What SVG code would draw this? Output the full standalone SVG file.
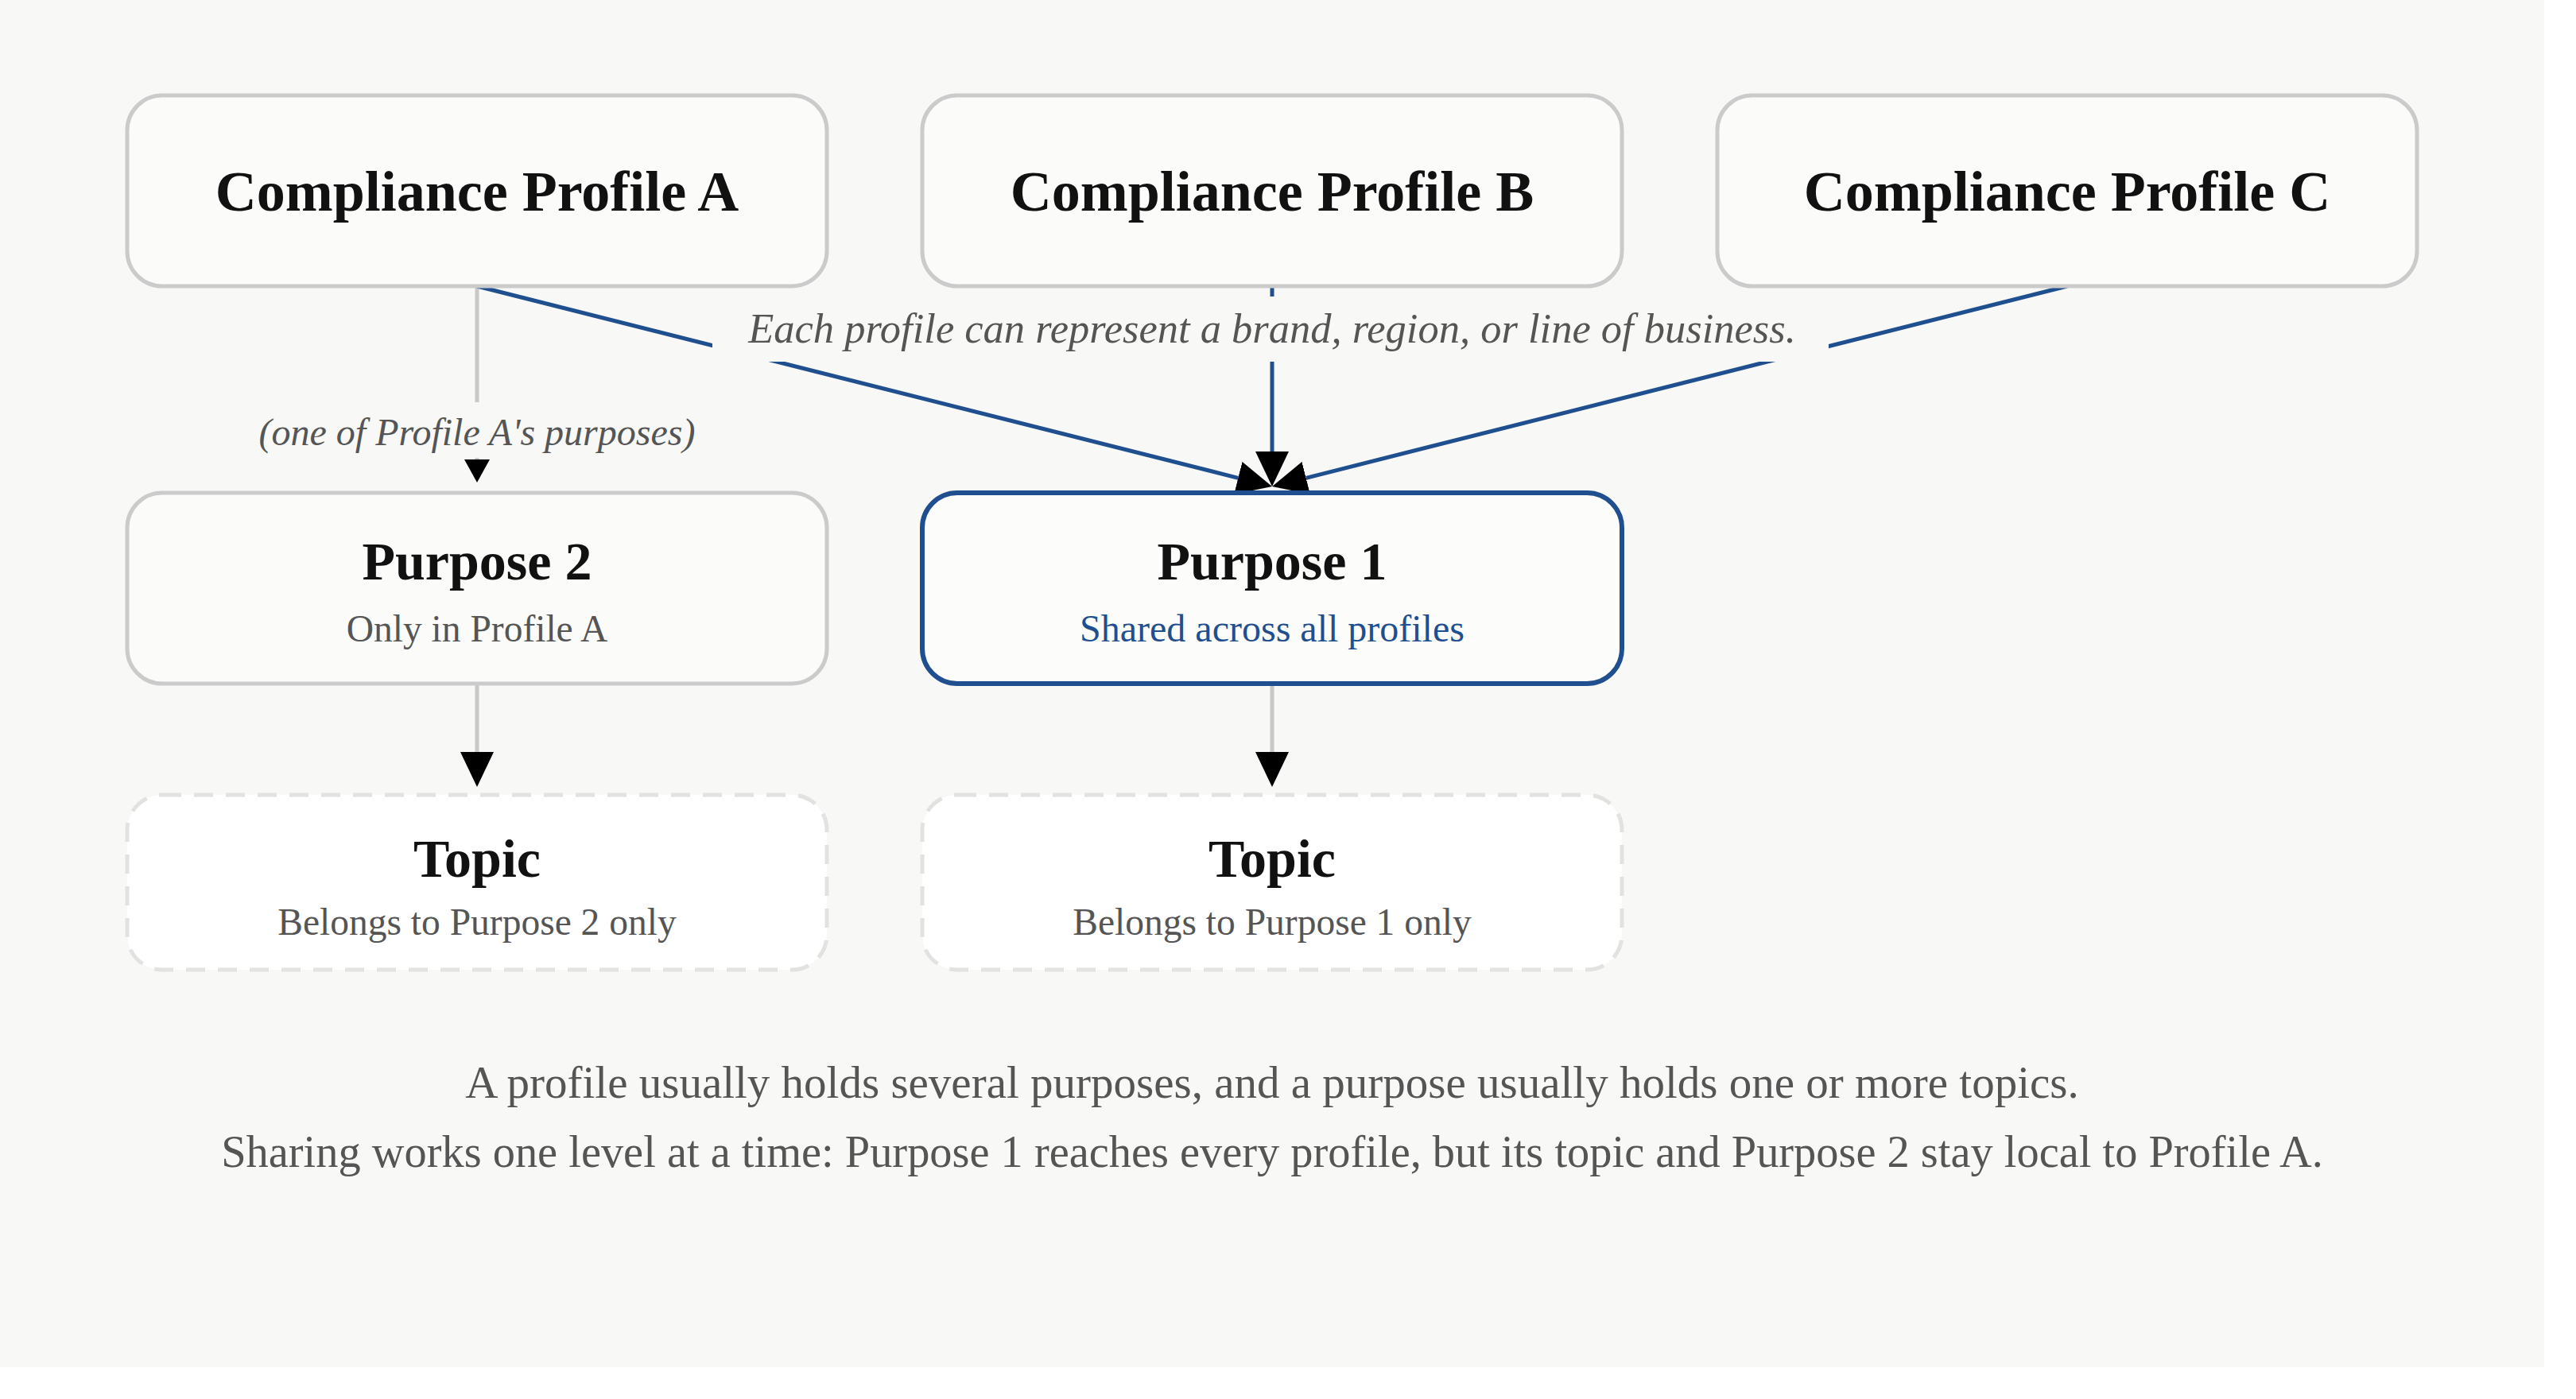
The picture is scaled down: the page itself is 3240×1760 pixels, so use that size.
<svg xmlns="http://www.w3.org/2000/svg" width="3240" height="1760" viewBox="0 0 3240 1760">
<style>
.box{fill:#fbfbfa;stroke:#cbcbcb;stroke-width:5}
.hl{fill:#fcfcfb;stroke:#1f4f8f;stroke-width:6}
.topic{fill:#ffffff;stroke:#e2e2e0;stroke-width:5;stroke-dasharray:24 16}
.t1{font-family:"Liberation Serif","Times New Roman",serif;font-weight:bold;font-size:72px;fill:#111;text-anchor:middle}
.t2{font-family:"Liberation Serif","Times New Roman",serif;font-weight:bold;font-size:68px;fill:#111;text-anchor:middle}
.sub{font-family:"Liberation Serif","Times New Roman",serif;font-size:47.5px;fill:#555;text-anchor:middle}
.subb{font-family:"Liberation Serif","Times New Roman",serif;font-size:48px;fill:#1f4f8f;text-anchor:middle}
.lbl{font-family:"Liberation Serif","Times New Roman",serif;font-style:italic;fill:#555;text-anchor:middle}
.foot{font-family:"Liberation Serif","Times New Roman",serif;fill:#555;text-anchor:middle}
.blue{stroke:#1f4f8f;stroke-width:5;fill:none}
.gray{stroke:#c8c8c8;stroke-width:5;fill:none}
.lblbg{fill:#f8f8f6}
</style>
<defs>
<marker id="ah" markerUnits="userSpaceOnUse" viewBox="0 0 44 42" markerWidth="44" markerHeight="42" refX="0" refY="21" orient="auto">
<path d="M0,0 L44,21 L0,42 Z" fill="#000"/>
</marker>
<marker id="ahs" markerUnits="userSpaceOnUse" viewBox="0 0 29 32" markerWidth="29" markerHeight="32" refX="0" refY="16" orient="auto">
<path d="M0,0 L29,16 L0,32 Z" fill="#000"/>
</marker>
</defs>
<rect x="0" y="0" width="3240" height="1760" fill="#ffffff"/>
<rect x="0" y="0" width="3200" height="1720" fill="#f8f8f6"/>

<g id="connectors">
<line class="gray" x1="600" y1="360" x2="600" y2="578" marker-end="url(#ahs)"/>
<line class="blue" x1="600" y1="360" x2="1557.3" y2="601.3" marker-end="url(#ah)"/>
<line class="blue" x1="1600" y1="360" x2="1600" y2="568" stroke-width="4" marker-end="url(#ah)"/>
<line class="blue" x1="2600" y1="360" x2="1642.7" y2="601.3" marker-end="url(#ah)"/>
<line class="gray" x1="600" y1="860" x2="600" y2="946" marker-end="url(#ah)"/>
<line class="gray" x1="1600" y1="860" x2="1600" y2="946" marker-end="url(#ah)"/>
<g id="label-shared">
<rect class="lblbg" x="896" y="373" width="1404" height="82"/>
<text class="lbl" x="1600" y="431" font-size="52.5">Each profile can represent a brand, region, or line of business.</text>
</g>
<g id="label-a-p2">
<rect class="lblbg" x="300" y="506" width="600" height="70"/>
<text class="lbl" x="600" y="560" font-size="48">(one of Profile A's purposes)</text>
</g>
</g>

<g id="profile-a">
<rect class="box" x="160" y="120" width="880" height="240" rx="44"/>
<text class="t1" x="600" y="265">Compliance Profile A</text>
</g>
<g id="profile-b">
<rect class="box" x="1160" y="120" width="880" height="240" rx="44"/>
<text class="t1" x="1600" y="265">Compliance Profile B</text>
</g>
<g id="profile-c">
<rect class="box" x="2160" y="120" width="880" height="240" rx="44"/>
<text class="t1" x="2600" y="265">Compliance Profile C</text>
</g>
<g id="purpose-2">
<rect class="box" x="160" y="620" width="880" height="240" rx="44"/>
<text class="t2" x="600" y="729">Purpose 2</text>
<text class="sub" x="600" y="807">Only in Profile A</text>
</g>
<g id="purpose-1">
<rect class="hl" x="1160" y="620" width="880" height="240" rx="44"/>
<text class="t2" x="1600" y="729">Purpose 1</text>
<text class="subb" x="1600" y="807">Shared across all profiles</text>
</g>
<g id="topic-2">
<rect class="topic" x="160" y="1000" width="880" height="220" rx="44"/>
<text class="t2" x="600" y="1103">Topic</text>
<text class="sub" x="600" y="1176">Belongs to Purpose 2 only</text>
</g>
<g id="topic-1">
<rect class="topic" x="1160" y="1000" width="880" height="220" rx="44"/>
<text class="t2" x="1600" y="1103">Topic</text>
<text class="sub" x="1600" y="1176">Belongs to Purpose 1 only</text>
</g>
<g id="footer">
<text class="foot" x="1600" y="1381" font-size="57">A profile usually holds several purposes, and a purpose usually holds one or more topics.</text>
<text class="foot" x="1600" y="1468" font-size="56.4">Sharing works one level at a time: Purpose 1 reaches every profile, but its topic and Purpose 2 stay local to Profile A.</text>
</g>
</svg>
